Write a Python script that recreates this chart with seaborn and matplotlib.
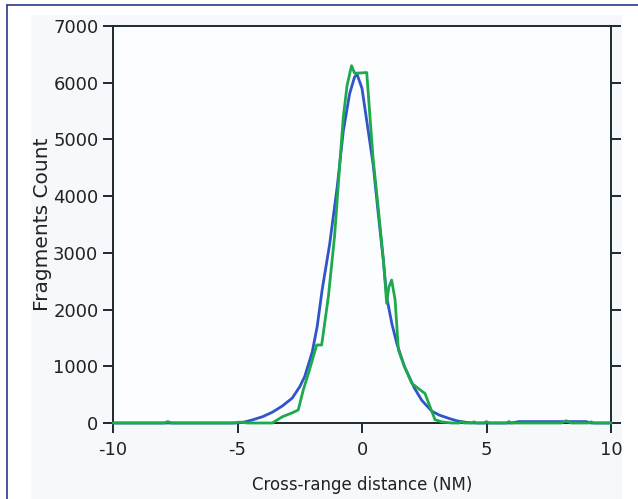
import matplotlib
matplotlib.use("Agg")
import matplotlib.pyplot as plt
import seaborn as sns
import pandas as pd
from matplotlib.patches import Rectangle
from matplotlib.lines import Line2D

# Blue series (smooth)
blue_x = [-10, -5.0, -4.7, -4.4, -4.0, -3.6, -3.2, -2.8, -2.5, -2.3, -2.0, -1.8, -1.6,
          -1.3, -1.0, -0.75, -0.5, -0.3, -0.2, 0.0, 0.2, 0.45, 0.65, 0.86, 1.0, 1.2, 1.4,
          1.7, 2.1, 2.4, 2.8, 3.1, 3.5, 3.8, 4.2, 4.5, 6.0, 6.3, 7.5, 9.0, 9.2, 10]
blue_y = [0, 0, 20, 55, 110, 190, 300, 440, 640, 820, 1250, 1700, 2350,
          3150, 4150, 5150, 5800, 6100, 6150, 5900, 5300, 4550, 3700, 2850, 2200, 1750, 1400,
          1000, 620, 400, 210, 140, 80, 40, 10, 0, 0, 25, 25, 25, 0, 0]

# Green series (histogram-like)
green_x = [-10, -7.95, -7.8, -7.65, -5.2, -4.9, -4.6, -3.6, -3.2, -2.8, -2.56, -2.36, -2.1,
           -1.82, -1.62, -1.35, -1.1, -0.88, -0.75, -0.6, -0.42, -0.3, -0.11, 0.19, 0.32,
           0.45, 0.65, 0.86, 0.99, 1.08, 1.19, 1.33, 1.46, 1.7, 2.0, 2.26, 2.53, 2.93, 3.2,
           3.6, 3.9, 4.0, 4.1, 4.4, 4.5, 4.6, 4.9, 5.0, 5.1, 5.8, 5.9, 6.0, 8.0, 8.2, 8.4,
           9.1, 9.2, 9.3, 10]
green_y = [0, 0, 25, 0, 0, 15, 0, 0, 110, 180, 230, 580, 950,
           1376, 1376, 2230, 3300, 4640, 5400, 5950, 6300, 6170, 6170, 6180, 5400,
           4640, 3800, 2875, 2110, 2400, 2520, 2170, 1290, 1000, 700, 610, 520, 60, 20,
           0, 0, 25, 0, 0, 20, 0, 0, 25, 0, 0, 25, 0, 0, 40, 0,
           0, 20, 0, 0]

x_ticks = [-10, -5, 0, 5, 10]
y_ticks = [0, 1000, 2000, 3000, 4000, 5000, 6000, 7000]

blue_color = "#2f55c8"
green_color = "#1ea94c"

df = pd.concat([
    pd.DataFrame({"x": blue_x, "y": blue_y, "series": "blue"}),
    pd.DataFrame({"x": green_x, "y": green_y, "series": "green"}),
], ignore_index=True)

sns.set_style("ticks")
plt.rcParams["axes.unicode_minus"] = False
plt.rcParams["font.family"] = ["DejaVu Sans"]

W, H = 638, 499
fig = plt.figure(figsize=(W / 100, H / 100), dpi=100, facecolor="white")

# light panel
fig.patches.append(Rectangle((31 / W, 0), (622 - 31) / W, 1 - 15 / H,
                             transform=fig.transFigure, facecolor="#f7f8fb",
                             edgecolor="none", zorder=-10))

ax = fig.add_axes([113 / W, 76 / H, (611 - 113) / W, (423 - 26) / H])
ax.set_facecolor("#fcfdff")

sns.lineplot(data=df, x="x", y="y", hue="series", palette=[blue_color, green_color],
             hue_order=["blue", "green"], estimator=None, sort=False,
             linewidth=2.0, legend=False, ax=ax)
for ln in ax.lines:
    ln.set_zorder(3)
    ln.set_clip_on(False)

ax.set_xlim(-10, 10)
ax.set_ylim(0, 7000)
ax.set_xticks(x_ticks)
ax.set_yticks(y_ticks)
ax.set_xticklabels([str(t) for t in x_ticks])
ax.set_yticklabels([str(t) for t in y_ticks])
ax.set_xlabel("Cross-range distance (NM)", fontsize=12, labelpad=12, color="#222222")
ax.set_ylabel("Fragments Count", fontsize=14.5, labelpad=1, color="#222222")

for s in ax.spines.values():
    s.set_color("#1c2a30")
    s.set_linewidth(1.4)
    s.set_visible(True)
ax.tick_params(axis="both", direction="out", length=7, width=1.4, color="#1c2a30",
               labelsize=13, labelcolor="#222222")
ax.tick_params(axis="x", pad=6)
ax.tick_params(axis="y", right=True, labelright=False)
ax.tick_params(axis="x", top=False)

# blue frame lines
fig.lines.append(Line2D([7 / W, 7 / W], [0, 1 - 5 / H], transform=fig.transFigure,
                        color="#2a3a8a", linewidth=1.2))
fig.lines.append(Line2D([7 / W, 1], [1 - 5 / H, 1 - 5 / H], transform=fig.transFigure,
                        color="#2a3a8a", linewidth=1.2))
# white margin on right that crops the last tick label
fig.add_artist(Rectangle((622 / W, 0), (W - 622) / W, 1 - 6 / H,
                         transform=fig.transFigure, facecolor="white",
                         edgecolor="none", zorder=20))

fig.savefig("out.png", dpi=100, facecolor=fig.get_facecolor())
